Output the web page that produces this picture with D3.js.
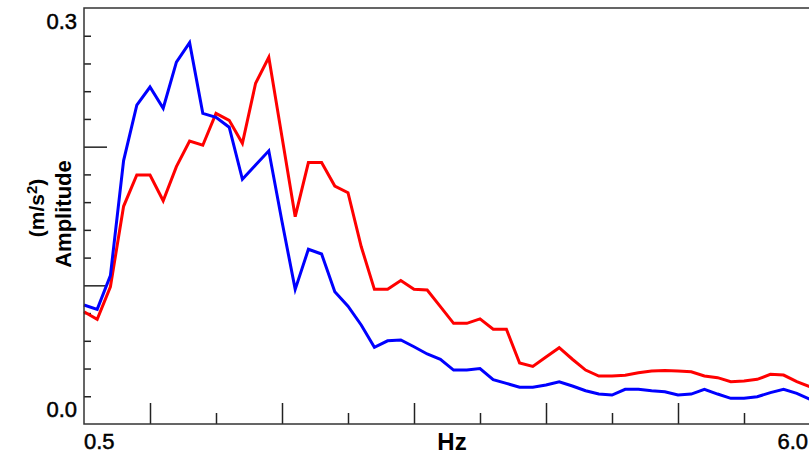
<!DOCTYPE html>
<html>
<head>
<meta charset="utf-8">
<script src="https://cdn.jsdelivr.net/npm/d3@7"></script>
<style>
  body { margin: 0; background: #fff; }
  text { font-family: "Liberation Sans", Arial, sans-serif; fill: #000; }
  .num { stroke: #000; stroke-width: 0.5px; }
</style>
</head>
<body>
<svg></svg>
<script>
var width = 809;
var height = 454;

// frequency steps, 0.5 .. 6.0 Hz by 0.1
var freqs = d3.range(56).map(i => +(0.5 + i * 0.1).toFixed(1));

var redValues = [
  0.081, 0.0755, 0.099, 0.157, 0.1796, 0.1796, 0.161, 0.1856, 0.204, 0.201,
  0.224, 0.219, 0.2024, 0.2457, 0.2644, 0.207, 0.1495, 0.1885, 0.1885, 0.1716,
  0.1668, 0.128, 0.0971, 0.0971, 0.1034, 0.0971, 0.0966, 0.0846, 0.0726, 0.0726,
  0.0758, 0.0683, 0.0683, 0.044, 0.0415, 0.0483, 0.055, 0.0467, 0.0389, 0.0346,
  0.0346, 0.0351, 0.037, 0.0382, 0.0385, 0.0382, 0.0377, 0.0346, 0.0334, 0.0305,
  0.031, 0.0322, 0.0358, 0.0353, 0.0305, 0.0269
];

var blueValues = [
  0.0858, 0.0827, 0.107, 0.19, 0.23, 0.243, 0.2277, 0.261, 0.275, 0.224,
  0.2212, 0.214, 0.1765, 0.1868, 0.197, 0.146, 0.0971, 0.126, 0.1226, 0.0954,
  0.085, 0.0714, 0.0553, 0.06, 0.0606, 0.0557, 0.0505, 0.0467, 0.0389, 0.0389,
  0.04, 0.032, 0.0293, 0.0265, 0.0265, 0.0281, 0.0305, 0.0274, 0.024, 0.0216,
  0.0209, 0.025, 0.025, 0.024, 0.0233, 0.0209, 0.0216, 0.025, 0.0216, 0.0185,
  0.0185, 0.0197, 0.0226, 0.025, 0.0221, 0.0178
];

var majorXTicks = [1, 2, 3, 4, 5, 6];
var minorXTicks = [1.5, 2.5, 3.5, 4.5, 5.5];
var majorYTicks = [0.1, 0.2];
var minorYTicks = d3.range(1, 15).map(i => +(i * 0.02).toFixed(2)).filter(v => majorYTicks.indexOf(v) < 0);

var plotLeft = 84, plotRight = 810, plotTop = 8, plotBottom = 424;

var xScale = d3.scaleLinear().domain([0.5, 6.0]).range([plotLeft, plotRight]);
var yScale = d3.scaleLinear().domain([0, 0.3]).range([plotBottom, plotTop]);

var svg = d3.select('svg')
    .attr('width', width)
    .attr('height', height);

// ticks (inward)
function tickAxis(axis, transform) {
  var g = svg.append('g')
      .attr('transform', transform)
      .call(axis);
  g.select('.domain').remove();
  g.selectAll('.tick line').attr('stroke', '#222').attr('stroke-width', 1.5);
  g.selectAll('.tick text').remove();
}

tickAxis(d3.axisBottom(xScale).tickValues(majorXTicks).tickSizeInner(-21).tickSizeOuter(0), `translate(0,${plotBottom})`);
tickAxis(d3.axisBottom(xScale).tickValues(minorXTicks).tickSizeInner(-11).tickSizeOuter(0), `translate(0,${plotBottom})`);
tickAxis(d3.axisLeft(yScale).tickValues(majorYTicks).tickSizeInner(-23).tickSizeOuter(0), `translate(${plotLeft},0)`);
tickAxis(d3.axisLeft(yScale).tickValues(minorYTicks).tickSizeInner(-7).tickSizeOuter(0), `translate(${plotLeft},0)`);

// lines
var line = d3.line()
    .x((d, i) => xScale(freqs[i]))
    .y(d => yScale(d));

svg.append('path')
    .datum(redValues)
    .attr('fill', 'none')
    .attr('stroke', '#ff0000')
    .attr('stroke-width', 3)
    .attr('d', line);

svg.append('path')
    .datum(blueValues)
    .attr('fill', 'none')
    .attr('stroke', '#0000ff')
    .attr('stroke-width', 3)
    .attr('d', line);

// frame
svg.append('rect')
    .attr('x', plotLeft)
    .attr('y', plotTop)
    .attr('width', plotRight - plotLeft)
    .attr('height', plotBottom - plotTop)
    .attr('fill', 'none')
    .attr('stroke', '#333')
    .attr('stroke-width', 1.5);

// tick labels
svg.append('text')
    .attr('class', 'num')
    .attr('x', plotLeft - 7)
    .attr('y', yScale(0.3) + 21)
    .style('text-anchor', 'end')
    .style('font-size', '22px')
    .text('0.3');

svg.append('text')
    .attr('class', 'num')
    .attr('x', plotLeft - 7)
    .attr('y', yScale(0) - 7)
    .style('text-anchor', 'end')
    .style('font-size', '22px')
    .text('0.0');

svg.append('text')
    .attr('class', 'num')
    .attr('x', xScale(0.5))
    .attr('y', 449)
    .style('text-anchor', 'start')
    .style('font-size', '22px')
    .text('0.5');

svg.append('text')
    .attr('class', 'num')
    .attr('x', 808)
    .attr('y', 449)
    .style('text-anchor', 'end')
    .style('font-size', '22px')
    .text('6.0');

svg.append('text')
    .attr('x', 452)
    .attr('y', 450)
    .style('text-anchor', 'middle')
    .style('font-size', '24px')
    .style('font-weight', 'bold')
    .text('Hz');

// y label
svg.append('text')
    .attr('transform', 'translate(71,214) rotate(-90)')
    .style('text-anchor', 'middle')
    .style('font-size', '22px')
    .style('font-weight', 'bold')
    .text('Amplitude');

var unit = svg.append('text')
    .attr('transform', 'translate(44,208) rotate(-90)')
    .style('text-anchor', 'middle')
    .style('font-size', '21px')
    .style('font-weight', 'bold');
unit.append('tspan').text('(m/s');
unit.append('tspan').attr('dy', '-0.5em').style('font-size', '15px').text('2');
unit.append('tspan').attr('dy', '0.35em').text(')');
</script>
</body>
</html>
